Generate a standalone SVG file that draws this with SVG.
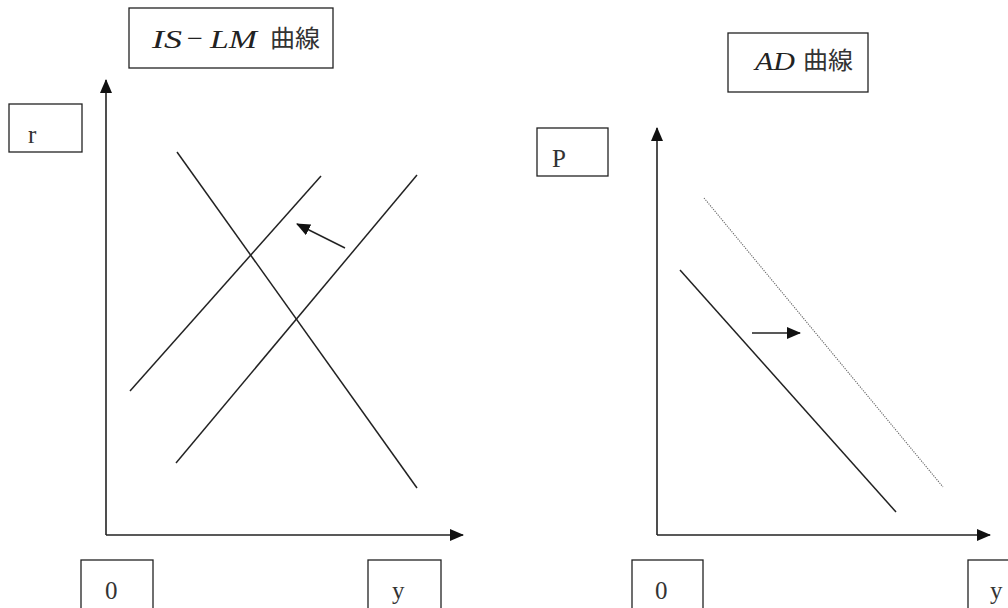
<svg xmlns="http://www.w3.org/2000/svg" width="1008" height="608" viewBox="0 0 1008 608">
<defs>
<marker id="ah" viewBox="0 0 14 12" refX="13" refY="6" markerWidth="14" markerHeight="12" markerUnits="userSpaceOnUse" orient="auto">
<path d="M0,0 L14,6 L0,12 Z" fill="#111"/>
</marker>
</defs>
<style>
.box{fill:#fff;stroke:#222;stroke-width:1.3}
.lbl{font-family:"Liberation Serif","Noto Sans CJK JP",serif;font-size:25px;fill:#333}
.ttl{font-family:"Liberation Serif",serif;font-size:26px;font-style:italic;fill:#222}
.mn{font-family:"Liberation Serif",serif;font-size:26px;fill:#222}
.cjk{font-family:"Noto Sans CJK JP","Noto Sans CJK SC",sans-serif;font-size:24px;fill:#333}
.ax{stroke:#222;stroke-width:1.6;fill:none}
.ln{stroke:#222;stroke-width:1.5;fill:none}
.dot{stroke:#666;stroke-width:1.1;stroke-dasharray:1.2 1.2;fill:none}
</style>
<rect width="1008" height="608" fill="#fff"/>
<g id="title-islm"><rect class="box" x="129" y="8" width="204" height="60"/><text class="ttl" x="152" y="48" textLength="30" lengthAdjust="spacingAndGlyphs">IS</text><text class="mn" x="187" y="47" textLength="16" lengthAdjust="spacingAndGlyphs">−</text><text class="ttl" x="210" y="48" textLength="47" lengthAdjust="spacingAndGlyphs">LM</text><text class="cjk" x="270" y="47" textLength="50" lengthAdjust="spacingAndGlyphs">曲線</text></g>
<g id="title-ad"><rect class="box" x="728" y="33" width="140" height="59"/><text class="ttl" x="755" y="70" font-size="24" textLength="40" lengthAdjust="spacingAndGlyphs">AD</text><text class="cjk" x="803" y="69" textLength="50" lengthAdjust="spacingAndGlyphs">曲線</text></g>
<g id="label-r"><rect class="box" x="9" y="104" width="73" height="48"/><text class="lbl" x="28" y="143">r</text></g>
<g id="label-p"><rect class="box" x="537" y="128" width="71" height="48"/><text class="lbl" x="552" y="167">P</text></g>
<g id="label-0-left"><rect class="box" x="81" y="560" width="72" height="60"/><text class="lbl" x="105" y="599">0</text></g>
<g id="label-y-left"><rect class="box" x="368" y="560" width="73" height="60"/><text class="lbl" x="392" y="599">y</text></g>
<g id="label-0-right"><rect class="box" x="632" y="560" width="71" height="60"/><text class="lbl" x="655" y="599">0</text></g>
<g id="label-y-right"><rect class="box" x="968" y="560" width="60" height="60"/><text class="lbl" x="990" y="599">y</text></g>
<g id="connectors">
<line class="ax" x1="106" y1="535" x2="106" y2="80" marker-end="url(#ah)"/>
<line class="ax" x1="106" y1="535" x2="463" y2="535" marker-end="url(#ah)"/>
<line class="ax" x1="657" y1="535" x2="657" y2="128" marker-end="url(#ah)"/>
<line class="ax" x1="657" y1="535" x2="990" y2="535" marker-end="url(#ah)"/>
<line class="ln" x1="177" y1="152" x2="417" y2="488"/>
<line class="ln" x1="130" y1="391" x2="321" y2="176"/>
<line class="ln" x1="176" y1="463" x2="417" y2="175"/>
<line class="ln" x1="345" y1="248" x2="297" y2="224" marker-end="url(#ah)"/>
<line class="ln" x1="680" y1="270" x2="896" y2="512"/>
<line class="dot" x1="704" y1="198" x2="943" y2="487"/>
<line class="ln" x1="752" y1="333" x2="800" y2="333" marker-end="url(#ah)"/>
</g>
</svg>
